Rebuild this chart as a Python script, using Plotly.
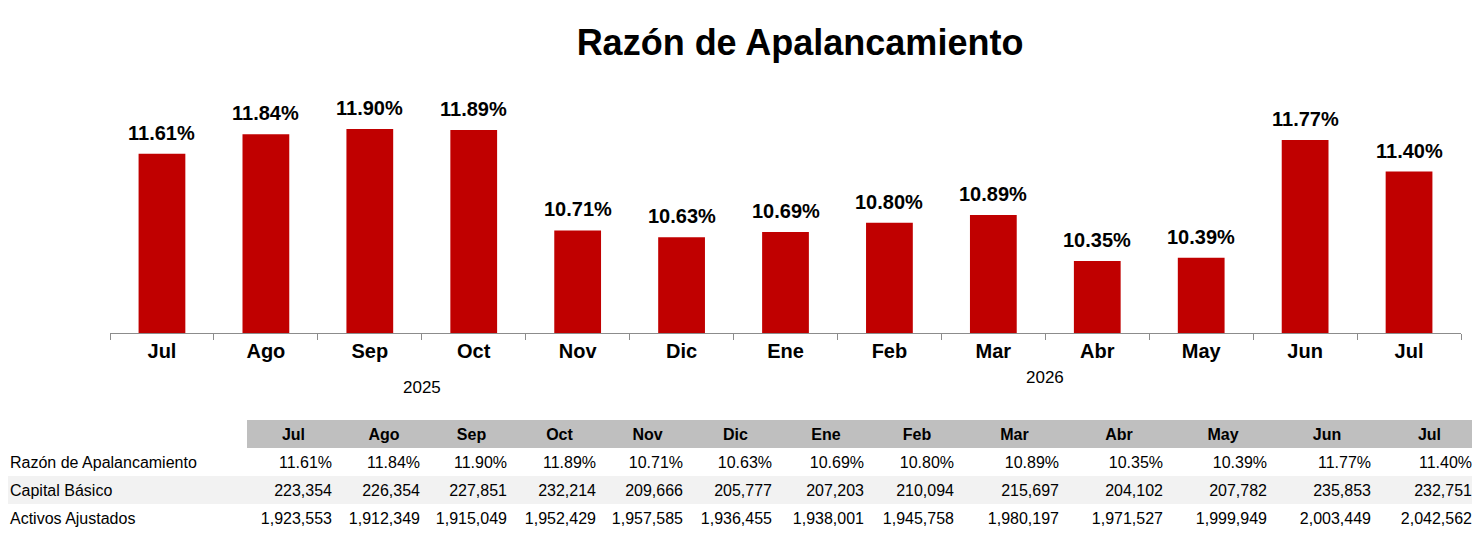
import plotly.graph_objects as go

# Razón de apalancamiento, jul-2025 a jul-2026
meses = ["Jul", "Ago", "Sep", "Oct", "Nov", "Dic", "Ene", "Feb", "Mar", "Abr", "May", "Jun", "Jul"]
anios = [2025, 2025, 2025, 2025, 2025, 2025, 2026, 2026, 2026, 2026, 2026, 2026, 2026]
razon = [11.61, 11.84, 11.90, 11.89, 10.71, 10.63, 10.69, 10.80, 10.89, 10.35, 10.39, 11.77, 11.40]
capital = [223354, 226354, 227851, 232214, 209666, 205777, 207203, 210094, 215697,
           204102, 207782, 235853, 232751]
activos = [1923553, 1912349, 1915049, 1952429, 1957585, 1936455, 1938001, 1945758,
           1980197, 1971527, 1999949, 2003449, 2042562]
filas = ["Razón de Apalancamiento", "Capital Básico", "Activos Ajustados"]

FONT = "Liberation Sans, Arial, sans-serif"
ROJO = "#C00000"
# the page body has an 8px margin, so the figure is drawn 8px in from the window corner
OFF = 8
W, H = 1480 - OFF, 534 - OFF


def px(x):
    return (x - OFF) / W


def py(y):
    return 1 - (y - OFF) / H


cats = [f"{m} {a}" for m, a in zip(meses, anios)]

fig = go.Figure()
fig.add_trace(go.Bar(x=cats, y=razon, marker_color=ROJO, marker_line_width=0,
                     hoverinfo="skip", showlegend=False))

# etiquetas sobre las barras
for c, v in zip(cats, razon):
    fig.add_annotation(x=c, y=v, xref="x", yref="y", text=f"<b>{v:.2f}%</b>",
                       showarrow=False, yanchor="bottom", yshift=8,
                       font=dict(family=FONT, size=20, color="black"))

# años bajo el eje
fig.add_annotation(x=2.5, y=py(387), xref="x", yref="paper", text="2025",
                   showarrow=False, yanchor="middle",
                   font=dict(family=FONT, size=17, color="black"))
fig.add_annotation(x=8.5, y=py(377), xref="x", yref="paper", text="2026",
                   showarrow=False, yanchor="middle",
                   font=dict(family=FONT, size=17, color="black"))

# tabla inferior
col_edges = [247, 332, 420, 507, 596, 683, 772, 864, 954, 1059, 1163, 1267, 1371, 1480]
col_edges = [e - OFF for e in col_edges[:1]] + col_edges[1:-1] + [W]
widths = [col_edges[0]] + [b - a for a, b in zip(col_edges[:-1], col_edges[1:])]
header_vals = [""] + meses
cell_vals = [["", "", ""]] + [[f"{r:.2f}%", f"{c:,}", f"{a:,}"]
                              for r, c, a in zip(razon, capital, activos)]
row_fill = ["white", "#F2F2F2", "white"]
fig.add_trace(go.Table(
    domain=dict(x=[0, 1], y=[0, py(420)]),
    columnwidth=widths,
    header=dict(values=header_vals, height=28,
                fill_color=["white"] + ["#BFBFBF"] * len(meses),
                line_color=["white"] + ["#BFBFBF"] * len(meses), line_width=0,
                align="center", font=dict(family=FONT, size=16, color="black", weight="bold")),
    cells=dict(values=cell_vals, height=28,
               fill_color=[row_fill] * (len(meses) + 1),
               line_color=[row_fill] * (len(meses) + 1), line_width=0,
               align=["left"] + ["right"] * len(meses),
               font=dict(family=FONT, size=16, color="black")),
))

# nombres de las filas
for i, nombre in enumerate(filas):
    fig.add_annotation(x=0, y=py(462 + 28 * i), xref="paper", yref="paper", text=nombre,
                       showarrow=False, xanchor="left", yanchor="middle",
                       font=dict(family=FONT, size=16, color="black"))

y0 = 9.505
ppu = 85.16
fig.update_layout(
    width=W, height=H,
    margin=dict(l=0, r=0, t=0, b=0),
    paper_bgcolor="white", plot_bgcolor="white",
    title=dict(text="<b>Razón de Apalancamiento</b>", x=px(800), xanchor="center",
               y=py(42), yanchor="middle",
               font=dict(family=FONT, size=36, color="black")),
    bargap=0.55,
    xaxis=dict(domain=[px(110), px(1461)], type="category",
               tickvals=cats, ticktext=[f"<b>{m}</b>" for m in meses],
               tickson="boundaries", ticks="outside", ticklen=6, tickcolor="#8C8C8C",
               showline=True, linecolor="#8C8C8C", linewidth=1, showgrid=False,
               tickfont=dict(family=FONT, size=20, color="black"), automargin=False),
    yaxis=dict(domain=[py(333), py(100)], range=[y0, y0 + 233 / ppu],
               visible=False, showgrid=False, zeroline=False),
)

fig.write_html("out.html")
